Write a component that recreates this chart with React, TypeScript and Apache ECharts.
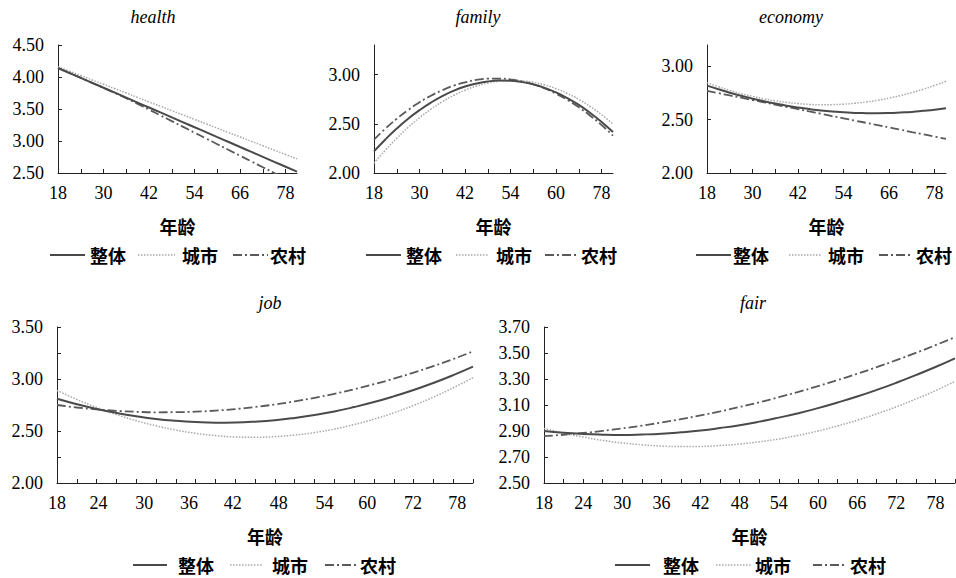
import React, { useEffect, useRef } from "react";
import * as echarts from "echarts";

// ---------- data ----------
const ages = [18, 21, 24, 27, 30, 33, 36, 39, 42, 45, 48, 51, 54, 57, 60, 63, 66, 69, 72, 75, 78, 81];
const seriesNames = ["整体", "城市", "农村"];

const healthOverall = [4.140, 4.063, 3.986, 3.909, 3.832, 3.755, 3.677, 3.600, 3.523, 3.446, 3.369, 3.292, 3.215, 3.138, 3.061, 2.984, 2.906, 2.829, 2.752, 2.675, 2.598, 2.521];
const healthUrban = [4.160, 4.091, 4.023, 3.954, 3.886, 3.817, 3.749, 3.680, 3.611, 3.543, 3.474, 3.406, 3.337, 3.269, 3.200, 3.131, 3.063, 2.994, 2.926, 2.857, 2.789, 2.720];
const healthRural = [4.140, 4.063, 3.986, 3.908, 3.830, 3.750, 3.668, 3.580, 3.490, 3.400, 3.310, 3.220, 3.130, 3.040, 2.950, 2.860, 2.770, 2.680, 2.590, 2.500, 2.410, 2.320];

const familyOverall = [2.220, 2.341, 2.452, 2.551, 2.638, 2.715, 2.781, 2.835, 2.878, 2.909, 2.930, 2.939, 2.938, 2.924, 2.900, 2.865, 2.818, 2.760, 2.691, 2.610, 2.519, 2.416];
const familyUrban = [2.100, 2.232, 2.353, 2.463, 2.561, 2.648, 2.724, 2.788, 2.841, 2.883, 2.913, 2.932, 2.940, 2.936, 2.921, 2.894, 2.857, 2.807, 2.747, 2.675, 2.592, 2.497];
const familyRural = [2.340, 2.451, 2.551, 2.640, 2.718, 2.785, 2.841, 2.887, 2.921, 2.945, 2.958, 2.959, 2.950, 2.930, 2.900, 2.858, 2.805, 2.742, 2.667, 2.582, 2.486, 2.379];

const economyOverall = [2.819, 2.785, 2.753, 2.724, 2.697, 2.673, 2.651, 2.631, 2.614, 2.599, 2.586, 2.576, 2.569, 2.563, 2.561, 2.560, 2.562, 2.567, 2.573, 2.583, 2.594, 2.608];
const economyUrban = [2.847, 2.809, 2.774, 2.744, 2.718, 2.695, 2.676, 2.662, 2.651, 2.643, 2.640, 2.641, 2.645, 2.654, 2.666, 2.682, 2.702, 2.726, 2.754, 2.785, 2.821, 2.860];
const economyRural = [2.770, 2.749, 2.727, 2.706, 2.684, 2.663, 2.641, 2.620, 2.599, 2.577, 2.556, 2.534, 2.513, 2.491, 2.470, 2.449, 2.427, 2.406, 2.384, 2.363, 2.341, 2.320];

const jobOverall = [2.810, 2.758, 2.712, 2.674, 2.642, 2.616, 2.598, 2.586, 2.580, 2.582, 2.590, 2.604, 2.626, 2.654, 2.688, 2.730, 2.778, 2.833, 2.894, 2.962, 3.037, 3.119];
const jobUrban = [2.890, 2.804, 2.726, 2.658, 2.599, 2.550, 2.509, 2.478, 2.456, 2.443, 2.440, 2.446, 2.461, 2.485, 2.519, 2.562, 2.614, 2.675, 2.746, 2.826, 2.915, 3.013];
const jobRural = [2.750, 2.726, 2.708, 2.694, 2.685, 2.680, 2.681, 2.686, 2.696, 2.711, 2.731, 2.755, 2.785, 2.819, 2.858, 2.901, 2.950, 3.003, 3.061, 3.124, 3.192, 3.265];

const fairOverall = [2.900, 2.886, 2.877, 2.872, 2.870, 2.873, 2.879, 2.890, 2.904, 2.923, 2.945, 2.972, 3.003, 3.037, 3.076, 3.119, 3.165, 3.216, 3.271, 3.330, 3.392, 3.459];
const fairUrban = [2.920, 2.884, 2.854, 2.828, 2.808, 2.794, 2.784, 2.780, 2.781, 2.788, 2.800, 2.817, 2.839, 2.867, 2.900, 2.939, 2.983, 3.032, 3.086, 3.146, 3.210, 3.281];
const fairRural = [2.860, 2.871, 2.885, 2.901, 2.920, 2.941, 2.965, 2.991, 3.020, 3.051, 3.085, 3.121, 3.160, 3.201, 3.245, 3.291, 3.340, 3.391, 3.445, 3.501, 3.560, 3.622];

// tick labels
const healthXLabels = ["18", "30", "42", "54", "66", "78"];
const familyXLabels = ["18", "30", "42", "54", "60", "78"];
const economyXLabels = ["18", "30", "42", "54", "66", "78"];
const topXLabelAges = [18, 30, 42, 54, 66, 78];
const topXTickAges = [24, 30, 36, 42, 48, 54, 60, 66, 72, 78];
const jobXLabels = ["18", "24", "30", "36", "42", "48", "54", "60", "72", "78"];
const jobXLabelAges = [18, 24.3, 31.2, 38.0, 44.6, 51.6, 58.5, 65.0, 71.9, 78.6];
const fairXLabels = ["18", "24", "30", "36", "42", "48", "54", "60", "66", "72", "78"];
const fairXLabelAges = [18, 24, 30, 36, 42, 48, 54, 60, 66, 72, 78];
const bottomXTickAges = [21, 24, 27, 30, 33, 36, 39, 42, 45, 48, 51, 54, 57, 60, 63, 66, 69, 72, 75, 78, 81];

const healthYLabels = [2.5, 3.0, 3.5, 4.0, 4.5];
const familyYLabels = [2.0, 2.5, 3.0];
const economyYLabels = [2.0, 2.5, 3.0];
const jobYLabels = [2.0, 2.5, 3.0, 3.5];
const jobYTicks = [2.25, 2.5, 2.75, 3.0, 3.25, 3.5];
const fairYLabels = [2.5, 2.7, 2.9, 3.1, 3.3, 3.5, 3.7];

const xAxisName = "年龄";

// ---------- layout / style ----------
const SERIF = "Liberation Serif, serif";
const CJK = "Noto Sans CJK SC, Noto Sans, sans-serif";

const lineStyles = [
  { color: "#4a4a4a", width: 2, type: "solid" as any, dash: null as any },
  { color: "#a8a8a8", width: 1.5, type: [1.5, 1.5] as any, dash: [1.5, 1.5] },
  { color: "#5a5a5a", width: 1.8, type: [9, 3, 2, 3] as any, dash: [9, 3, 2, 3] },
];

// legend item layout: [lineStart, lineEnd, textStart] for each of the three series
const panels = [
  {
    title: "health", titleX: 153, titleY: 17,
    grid: { left: 58, top: 45, width: 239, height: 128 },
    yMin: 2.5, yMax: 4.5, yInterval: 0.5, yLabels: healthYLabels, yTicks: [3.0, 3.5, 4.0, 4.5],
    xLabelAges: topXLabelAges, xLabels: healthXLabels, xTicks: topXTickAges,
    data: [healthOverall, healthUrban, healthRural],
    legendY: 255, legendItems: [[50, 85, 90], [138, 175, 182], [233, 268, 270]],
  },
  {
    title: "family", titleX: 478, titleY: 17,
    grid: { left: 374, top: 45, width: 239, height: 128 },
    yMin: 2.0, yMax: 3.3, yInterval: 0.5, yLabels: familyYLabels, yTicks: [2.5, 3.0],
    xLabelAges: topXLabelAges, xLabels: familyXLabels, xTicks: topXTickAges,
    data: [familyOverall, familyUrban, familyRural],
    legendY: 255, legendItems: [[366, 401, 406], [456, 488, 496], [545, 576, 581]],
  },
  {
    title: "economy", titleX: 791, titleY: 17,
    grid: { left: 707, top: 45, width: 239, height: 128 },
    yMin: 2.0, yMax: 3.2, yInterval: 0.5, yLabels: economyYLabels, yTicks: [2.5, 3.0],
    xLabelAges: topXLabelAges, xLabels: economyXLabels, xTicks: topXTickAges,
    data: [economyOverall, economyUrban, economyRural],
    legendY: 255, legendItems: [[696, 731, 733], [789, 821, 828], [879, 911, 916]],
  },
  {
    title: "job", titleX: 270, titleY: 303,
    grid: { left: 57, top: 327, width: 416, height: 156 },
    yMin: 2.0, yMax: 3.5, yInterval: 0.25, yLabels: jobYLabels, yTicks: jobYTicks,
    xLabelAges: jobXLabelAges, xLabels: jobXLabels, xTicks: bottomXTickAges,
    data: [jobOverall, jobUrban, jobRural],
    legendY: 565, legendItems: [[133, 167, 178], [230, 263, 272], [325, 358, 360]],
  },
  {
    title: "fair", titleX: 753, titleY: 303,
    grid: { left: 544, top: 327, width: 411, height: 156 },
    yMin: 2.5, yMax: 3.7, yInterval: 0.2, yLabels: fairYLabels, yTicks: [2.7, 2.9, 3.1, 3.3, 3.5, 3.7],
    xLabelAges: fairXLabelAges, xLabels: fairXLabels, xTicks: bottomXTickAges,
    data: [fairOverall, fairUrban, fairRural],
    legendY: 565, legendItems: [[615, 650, 663], [716, 751, 755], [813, 846, 850]],
  },
];

function buildOption() {
  const grids: any[] = [];
  const xAxes: any[] = [];
  const yAxes: any[] = [];
  const series: any[] = [];
  const graphics: any[] = [];

  panels.forEach((p, i) => {
    grids.push({ ...p.grid, containLabel: false });
    xAxes.push({
      type: "value",
      gridIndex: i,
      min: 18,
      max: 81,
      interval: 3,
      name: xAxisName,
      nameLocation: "middle",
      nameGap: 44,
      nameTextStyle: { fontFamily: CJK, fontWeight: "bold", fontSize: 18, color: "#000" },
      axisLine: { show: true, lineStyle: { color: "#222", width: 1 } },
      axisTick: { show: true, inside: true, length: 4, lineStyle: { color: "#222" }, customValues: p.xTicks },
      splitLine: { show: false },
      axisLabel: {
        show: true,
        margin: 11,
        color: "#000",
        fontFamily: SERIF,
        fontSize: 18,
        customValues: p.xLabelAges,
        formatter: (v: number) => {
          const k = p.xLabelAges.findIndex((a) => Math.abs(a - v) < 1e-6);
          return k >= 0 ? p.xLabels[k] : "";
        },
      },
    });
    yAxes.push({
      type: "value",
      gridIndex: i,
      min: p.yMin,
      max: p.yMax,
      interval: p.yInterval,
      axisLine: { show: true, lineStyle: { color: "#222", width: 1 } },
      axisTick: { show: true, inside: true, length: 4, lineStyle: { color: "#222" }, customValues: p.yTicks },
      splitLine: { show: false },
      axisLabel: {
        show: true,
        margin: 14,
        color: "#000",
        fontFamily: SERIF,
        fontSize: 18,
        customValues: p.yLabels,
        formatter: (v: number) => v.toFixed(2),
      },
    });
    p.data.forEach((vals, s) => {
      const ls = lineStyles[s];
      series.push({
        type: "line",
        name: seriesNames[s],
        xAxisIndex: i,
        yAxisIndex: i,
        data: ages.map((a, j) => [a, vals[j]]),
        smooth: true,
        symbol: "none",
        showSymbol: false,
        clip: true,
        lineStyle: { color: ls.color, width: ls.width, type: ls.type },
        itemStyle: { color: ls.color },
        z: 3 - s,
      });
    });
    // legend drawn as line samples + labels
    p.legendItems.forEach((it, s) => {
      const ls = lineStyles[s];
      graphics.push({
        type: "line",
        shape: { x1: it[0], y1: p.legendY, x2: it[1], y2: p.legendY },
        style: { stroke: ls.color, lineWidth: ls.width, lineDash: ls.dash || undefined },
      });
      graphics.push({
        type: "text",
        x: it[2],
        y: p.legendY,
        style: {
          text: seriesNames[s],
          fontFamily: CJK,
          fontWeight: "bold",
          fontSize: 18,
          fill: "#000",
          align: "left",
          verticalAlign: "middle",
        },
      });
    });
    graphics.push({
      type: "text",
      x: p.titleX,
      y: p.titleY,
      style: {
        text: p.title,
        fontFamily: SERIF,
        fontStyle: "italic",
        fontSize: 18,
        fill: "#000",
        align: "center",
        verticalAlign: "middle",
      },
    });
  });

  return {
    animation: false,
    backgroundColor: "#fff",
    textStyle: { fontFamily: SERIF },
    grid: grids,
    xAxis: xAxes,
    yAxis: yAxes,
    series,
    graphic: graphics,
  };
}

export default function App() {
  const ref = useRef<HTMLDivElement>(null);
  useEffect(() => {
    if (!ref.current) return;
    const chart = echarts.init(ref.current, null, { renderer: "svg" });
    chart.setOption(buildOption() as any);
    return () => chart.dispose();
  }, []);
  return (
    <div
      ref={ref}
      style={{ position: "absolute", left: 0, top: 0, width: 956, height: 578, background: "#fff" }}
    />
  );
}
